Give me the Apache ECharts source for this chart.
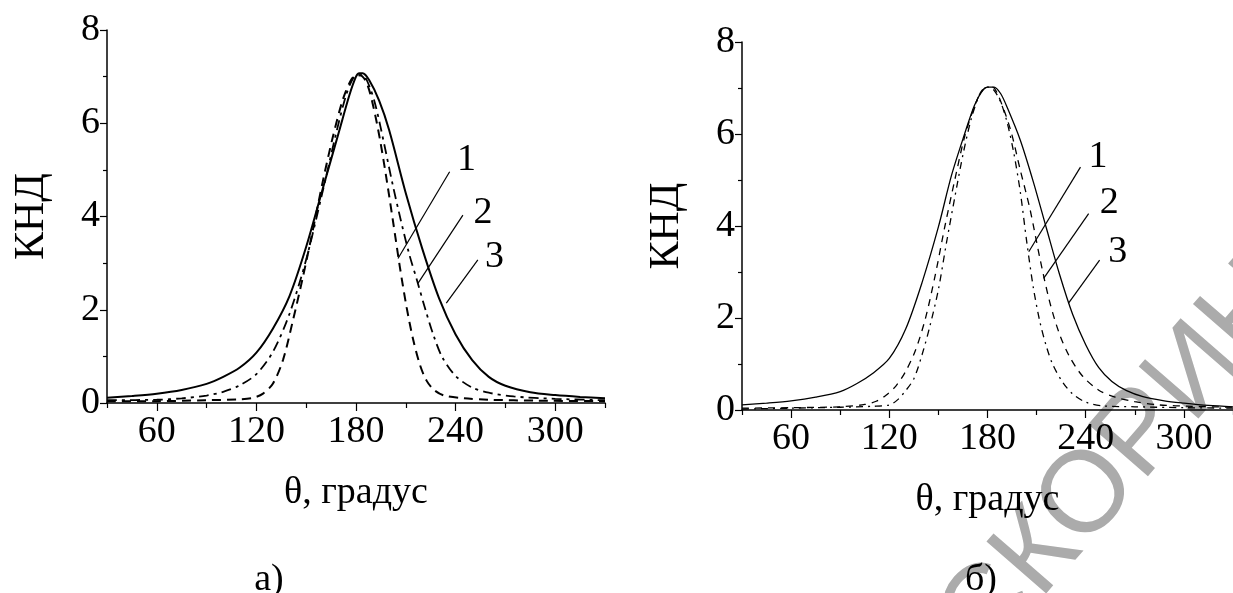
<!DOCTYPE html>
<html>
<head>
<meta charset="utf-8">
<title>КНД</title>
<script src="https://cdn.jsdelivr.net/npm/echarts@6/dist/echarts.min.js"></script>
<style>
  html, body { margin: 0; padding: 0; background: #fff; }
  #chart { width: 1233px; height: 593px; }
</style>
</head>
<body>
<div id="chart"></div>
<script>
// тики оси θ
const xTicks = [60, 120, 180, 240, 300]
const xMinorTicks = [30, 90, 150, 210, 270, 330]

// панель а): [θ, КНД]
const curveA1 = [[30, 0.04], [60, 0.04], [90, 0.06], [110, 0.08], [118, 0.11], [124, 0.2], [130, 0.42], [136, 0.92], [142, 1.77], [148, 2.7], [154, 3.71], [160, 4.75], [166, 5.7], [172, 6.5], [177, 6.93], [180, 7.03], [182.5, 7.03], [186.5, 6.86], [190.5, 6.35], [194.5, 5.64], [198.5, 4.78], [202.5, 3.85], [206.5, 2.9], [210.5, 2.05], [214.5, 1.35], [218.5, 0.82], [222.5, 0.48], [227, 0.28], [233, 0.16], [245, 0.1], [260, 0.07], [290, 0.05], [330, 0.04]]
const curveA2 = [[30, 0.06], [60, 0.07], [75, 0.1], [90, 0.16], [100, 0.24], [110, 0.38], [120, 0.62], [130, 1.1], [140, 1.92], [150, 3.08], [160, 4.55], [168, 5.78], [174, 6.6], [178, 6.95], [181, 7.03], [184, 7.03], [188, 6.8], [192, 6.35], [197, 5.55], [202, 4.7], [207, 3.92], [212, 3.2], [217, 2.6], [222, 1.98], [227, 1.42], [232, 0.98], [240, 0.58], [250, 0.33], [260, 0.22], [275, 0.14], [300, 0.09], [330, 0.06]]
const curveA3 = [[30, 0.11], [45, 0.15], [60, 0.2], [75, 0.28], [90, 0.41], [100, 0.56], [110, 0.76], [120, 1.08], [130, 1.6], [140, 2.3], [150, 3.35], [160, 4.6], [170, 5.85], [176, 6.6], [180, 7.0], [182, 7.07], [184, 7.07], [188, 6.92], [194, 6.48], [200, 5.85], [210, 4.5], [220, 3.3], [230, 2.25], [240, 1.47], [250, 0.92], [260, 0.56], [270, 0.37], [285, 0.23], [300, 0.17], [315, 0.13], [330, 0.1]]

// панель б): [θ, КНД]
const curveB1 = [[30, 0.02], [60, 0.04], [90, 0.06], [110, 0.08], [120, 0.11], [125, 0.22], [130, 0.42], [135, 0.68], [140, 1.2], [145, 1.85], [150, 2.62], [155, 3.65], [160, 4.62], [165, 5.55], [170, 6.32], [175, 6.85], [178, 7.0], [181, 7.02], [184, 6.95], [188, 6.7], [192, 6.25], [196, 5.6], [200, 4.75], [204, 3.65], [208, 2.66], [212, 1.92], [216, 1.38], [220, 0.98], [226, 0.6], [232, 0.35], [240, 0.17], [250, 0.09], [270, 0.07], [300, 0.05], [330, 0.04]]
const curveB2 = [[30, 0.04], [60, 0.05], [90, 0.07], [105, 0.12], [112, 0.19], [118, 0.32], [124, 0.52], [130, 0.84], [136, 1.3], [142, 1.98], [148, 2.92], [154, 4.0], [160, 5.0], [166, 5.94], [172, 6.6], [176, 6.9], [180, 7.02], [183, 7.02], [187, 6.8], [194, 6.1], [200, 5.22], [206, 4.36], [212, 3.3], [218, 2.35], [224, 1.65], [230, 1.17], [238, 0.74], [248, 0.43], [258, 0.28], [270, 0.18], [285, 0.11], [305, 0.08], [330, 0.06]]
const curveB3 = [[30, 0.11], [45, 0.15], [60, 0.2], [75, 0.28], [90, 0.4], [100, 0.57], [110, 0.8], [120, 1.12], [130, 1.76], [140, 2.77], [150, 3.98], [158, 5.1], [166, 6.0], [172, 6.62], [177, 6.95], [180, 7.02], [184, 7.02], [188, 6.88], [192, 6.58], [200, 5.87], [208, 4.96], [216, 3.95], [224, 2.95], [232, 2.08], [240, 1.42], [248, 0.92], [256, 0.62], [265, 0.42], [275, 0.29], [288, 0.2], [300, 0.15], [315, 0.1], [330, 0.07]]

// выноски: [начало на кривой, конец], подписи: [θ, КНД, текст]
const leadersA = [[[205.3, 3.1], [236.4, 4.96]], [[217.4, 2.57], [244.4, 4.03]], [[234.4, 2.14], [253.4, 3.07]]]
const labelsA = [[246.5, 5.21, '1'], [256.5, 4.08, '2'], [263.5, 3.14, '3']]
const leadersB = [[[205.2, 3.44], [236.8, 5.28]], [[214.3, 2.86], [241.8, 4.27]], [[229.4, 2.32], [248.5, 3.26]]]
const labelsB = [[247.5, 5.5, '1'], [254.4, 4.5, '2'], [259.6, 3.44, '3']]

const FONT = "'Liberation Serif', 'Times New Roman', serif"
const chart = echarts.init(document.getElementById('chart'), null, { renderer: 'canvas' })

const makeX = (grid) => ([
  {
    gridIndex: grid, type: 'value', min: 30, max: 330, position: 'bottom',
    name: 'θ, градус', nameLocation: 'middle', nameGap: 71,
    nameTextStyle: { fontFamily: FONT, fontSize: 38, color: '#000' },
    axisLine: { lineStyle: { color: '#000', width: 1.5 } },
    axisTick: { customValues: xTicks, length: 8, lineStyle: { color: '#000', width: 1.2 } },
    axisLabel: { customValues: xTicks, fontFamily: FONT, fontSize: 38, color: '#000', margin: 10 },
    splitLine: { show: false }
  },
  {
    gridIndex: grid, type: 'value', min: 30, max: 330, position: 'bottom',
    axisLine: { show: false },
    axisTick: { customValues: xMinorTicks, length: 5, lineStyle: { color: '#000', width: 1.2 } },
    axisLabel: { show: false },
    splitLine: { show: false }
  }
])

const makeY = (grid, gap) => ({
  gridIndex: grid, type: 'value', min: 0, max: 8, interval: 2,
  name: 'КНД', nameLocation: 'middle', nameGap: gap, nameRotate: 90,
  nameTextStyle: { fontFamily: FONT, fontSize: 42, color: '#000' },
  axisLine: { show: true, lineStyle: { color: '#000', width: 1.5 } },
  axisTick: { show: true, length: 7, lineStyle: { color: '#000', width: 1.2 } },
  minorTick: { show: true, splitNumber: 2, length: 4, lineStyle: { color: '#000', width: 1.2 } },
  axisLabel: { fontFamily: FONT, fontSize: 38, color: '#000', margin: 7 },
  splitLine: { show: false }
})

const curve = (data, xi, yi, type, width) => ({
  type: 'line', data: data, xAxisIndex: xi, yAxisIndex: yi,
  showSymbol: false, smooth: 0.3, silent: true,
  lineStyle: { color: '#000', width: width, type: type }
})

const leaders = (list, xi, yi) => list.map(seg => ({
  type: 'line', data: seg, xAxisIndex: xi, yAxisIndex: yi,
  showSymbol: false, silent: true,
  lineStyle: { color: '#000', width: 1.2 }
}))

const labels = (list, xi, yi) => ({
  type: 'scatter', data: list, xAxisIndex: xi, yAxisIndex: yi,
  symbolSize: 0, silent: true, itemStyle: { opacity: 1 },
  label: {
    show: true, position: 'inside', formatter: p => p.data[2],
    fontFamily: FONT, fontSize: 38, color: '#000', opacity: 1
  }
})

chart.setOption({
  animation: false,
  grid: [
    { left: 107, top: 30, width: 498, height: 373 },
    { left: 742, top: 42, width: 497, height: 368 }
  ],
  xAxis: [...makeX(0), ...makeX(1)],
  yAxis: [makeY(0, 54), makeY(1, 54)],
  graphic: [
    { type: 'text', x: 269, y: 580, style: { text: 'а)', fontFamily: FONT, fontSize: 38, fill: '#000', textAlign: 'center', textVerticalAlign: 'middle' } },
    { type: 'text', x: 981, y: 580, style: { text: 'б)', fontFamily: FONT, fontSize: 38, fill: '#000', textAlign: 'center', textVerticalAlign: 'middle' } },
    { type: 'text', x: 1005, y: 680, rotation: 0.855, z: -1, style: { text: 'СКОРИНЫ', fontFamily: "'Liberation Sans', sans-serif", fontSize: 115, fill: '#ababab', textAlign: 'left', textVerticalAlign: 'bottom' } }
  ],
  series: [
    curve(curveA1, 0, 0, [9, 6], 2),
    curve(curveA2, 0, 0, [10, 5, 3, 5], 1.8),
    curve(curveA3, 0, 0, 'solid', 2),
    ...leaders(leadersA, 0, 0),
    labels(labelsA, 0, 0),
    curve(curveB1, 2, 1, [7, 5, 2, 5], 1.3),
    curve(curveB2, 2, 1, [7, 6], 1.3),
    curve(curveB3, 2, 1, 'solid', 1.3),
    ...leaders(leadersB, 2, 1),
    labels(labelsB, 2, 1)
  ]
})
</script>
</body>
</html>
